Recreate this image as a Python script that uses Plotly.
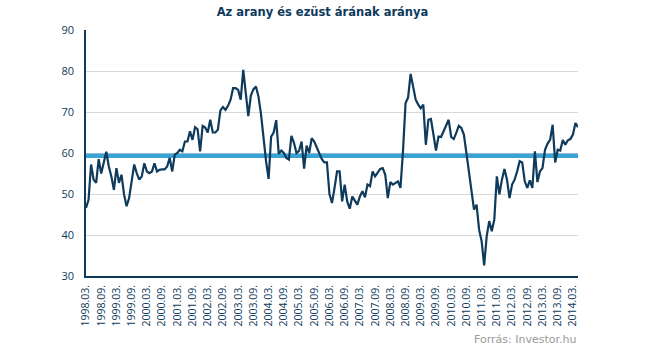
import plotly.graph_objects as go

# Monthly gold/silver price ratio, 1998.03 onward
ratio = [
    46.6, 48.6, 57.2, 53.5, 52.7, 58.5, 55.0, 57.5, 60.3, 56.7,
    54.3, 51.0, 56.3, 52.7, 54.7, 49.9, 47.0, 49.0, 52.7, 57.2,
    55.1, 53.5, 54.3, 57.5, 55.5, 55.1, 55.5, 57.5, 55.5, 55.9,
    56.0, 56.0, 56.7, 58.8, 55.5, 59.6, 60.0, 60.8, 60.4, 62.8,
    62.8, 65.3, 63.2, 66.3, 65.8, 60.4, 66.6, 66.2, 65.0, 68.1,
    65.0, 65.0, 65.7, 70.4, 71.2, 70.5, 71.5, 73.0, 75.8, 75.8,
    75.4, 73.0, 80.3,
    75.0, 69.0, 74.0, 75.5, 76.2, 73.8, 69.5, 63.5, 58.0, 53.7,
    64.0, 65.0, 68.0, 59.8, 60.6, 60.0, 58.8, 58.4, 64.2, 62.5,
    60.0, 60.5, 62.8, 56.2, 61.8, 60.0, 63.6, 62.8, 61.3, 59.8,
    58.5, 57.7, 57.7, 50.0, 47.8, 51.5, 55.5, 55.5, 48.2, 52.3,
    48.2, 46.4, 49.4, 48.4, 47.4, 49.4, 50.7, 49.2, 52.3, 51.9,
    55.5, 54.3, 55.1, 56.1, 56.3, 54.7, 49.0, 52.9, 52.3, 52.7,
    53.1, 51.5, 60.5, 72.2, 73.5, 79.3, 76.0, 73.0, 71.8, 70.9,
    71.8,
    62.0, 68.1, 68.3, 64.5, 60.6, 64.0, 63.9, 65.3, 66.9, 68.1,
    63.9, 63.4, 64.9, 66.6, 66.1, 64.5, 60.0, 55.1, 49.9, 46.2,
    47.4, 41.3, 38.5, 32.6, 39.7, 43.4, 40.9, 43.8, 54.3, 49.9,
    53.5, 56.1, 53.5, 49.0, 52.3, 53.5, 55.5, 58.0, 57.7, 53.1,
    51.5, 53.3, 51.5, 60.4, 52.9, 55.5, 56.3, 60.8, 62.3, 63.2,
    66.9, 57.7, 60.8, 60.6, 63.2, 62.0, 63.1, 63.4, 64.5, 67.3,
    66.3,
]
average_ratio = 59.3

start_year, start_month = 1998, 3
month_labels = []
for i in range(len(ratio)):
    m = start_month - 1 + i
    month_labels.append(f"{start_year + m // 12}.{m % 12 + 1:02d}.")

tick_idx = list(range(0, len(ratio), 6))
tick_text = [month_labels[i] for i in tick_idx]
idx = list(range(len(ratio)))

navy = "#0e3a5b"
fig = go.Figure()
fig.add_trace(go.Scatter(
    x=[0, len(ratio) - 1], y=[average_ratio, average_ratio], mode="lines",
    line=dict(color="#3aa3d4", width=4.5), hoverinfo="skip", showlegend=False))
fig.add_trace(go.Scatter(
    x=idx, y=ratio, mode="lines", line=dict(color=navy, width=2.2),
    text=month_labels, showlegend=False))

fig.update_layout(
    width=645, height=348,
    margin=dict(l=86, r=67, t=30, b=72),
    paper_bgcolor="white", plot_bgcolor="white",
    title=dict(text="<b>Az arany és ezüst árának aránya</b>", x=0.5, xanchor="center",
               y=0.965, yanchor="middle",
               font=dict(family="DejaVu Sans", size=11.5, color=navy)),
    font=dict(family="Open Sans", color=navy),
    xaxis=dict(range=[0, len(ratio) - 1], tickmode="array", tickvals=tick_idx,
               ticktext=tick_text, tickangle=-90, showgrid=False, zeroline=False,
               showline=True, linecolor=navy, linewidth=1.5, ticks="",
               ticklabelstandoff=3,
               tickfont=dict(family="Open Sans", size=10.5, color=navy)),
    yaxis=dict(range=[30, 90], dtick=10, showgrid=True, gridcolor="#d9d9d9",
               gridwidth=1, zeroline=False, showline=True, linecolor=navy,
               linewidth=1.5, ticks="", ticklabelstandoff=8,
               tickfont=dict(family="Open Sans", size=11, color=navy)),
    annotations=[dict(text="Forrás: Investor.hu", xref="paper", yref="paper",
                      x=1.0, y=-0.222, xanchor="right", yanchor="top",
                      showarrow=False,
                      font=dict(family="DejaVu Sans", size=11, color="#9a9a9a"))],
)
fig.write_html("out.html")
